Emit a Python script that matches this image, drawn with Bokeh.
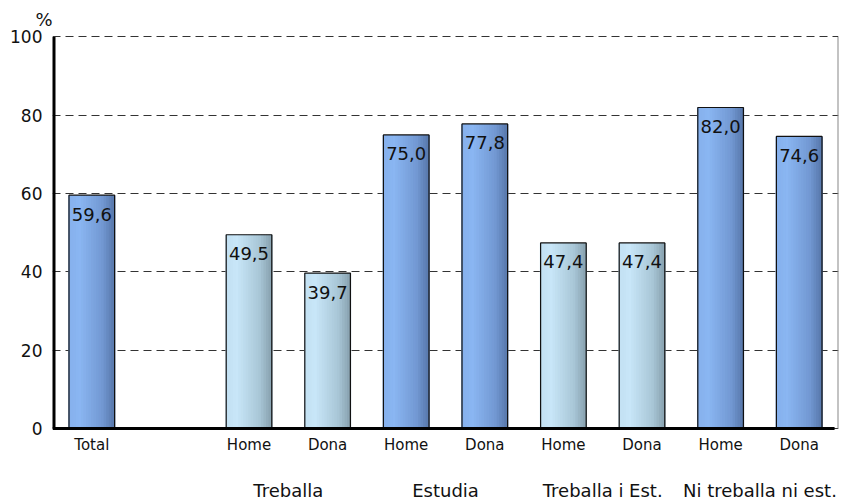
import numpy as np
from bokeh.plotting import figure
from bokeh.models import Range1d, FixedTicker, Title
from bokeh.embed import file_html
from bokeh.resources import INLINE
from bokeh.core.properties import value

# ---- data ----
categories = ["Total", "", "Home", "Dona", "Home", "Dona", "Home", "Dona", "Home", "Dona"]
values = [59.6, None, 49.5, 39.7, 75.0, 77.8, 47.4, 47.4, 82.0, 74.6]
shades = ["dark", "", "light", "light", "dark", "dark", "light", "light", "dark", "dark"]
groups = ["Treballa", "Estudia", "Treballa i Est.", "Ni treballa ni est."]
group_pos = [2.5, 4.5, 6.5, 8.5]
y_ticks = [0, 20, 40, 60, 80, 100]

FONT = "DejaVu Sans"
BAR_W = 0.58
N_STRIPS = 18
PX_PER_UNIT = 3.92
BOTTOM_PX = 74
TOP_PAD_PX = 1.5

gradients = {
    "dark": [(0.0, (0x86, 0xb0, 0xec)), (0.25, (0x8a, 0xb6, 0xf2)), (0.75, (0x72, 0x98, 0xd2)), (1.0, (0x58, 0x78, 0xac))],
    "light": [(0.0, (0xc2, 0xe0, 0xf2)), (0.25, (0xc8, 0xe6, 0xf8)), (0.75, (0xa8, 0xc6, 0xd6)), (1.0, (0x88, 0xa2, 0xb0))],
}


def interp(stops, t):
    for (t0, c0), (t1, c1) in zip(stops[:-1], stops[1:]):
        if t0 <= t <= t1:
            f = (t - t0) / (t1 - t0) if t1 > t0 else 0
            c = [int(round(a + (b - a) * f)) for a, b in zip(c0, c1)]
            return "#%02x%02x%02x" % tuple(c)
    return "#%02x%02x%02x" % stops[-1][1]


y_min = -BOTTOM_PX / PX_PER_UNIT
y_max = 100 + TOP_PAD_PX / PX_PER_UNIT
p = figure(width=846, height=502, output_backend="svg", toolbar_location=None,
           x_range=Range1d(-0.5, 9.5), y_range=Range1d(y_min, y_max),
           min_border_left=52, min_border_right=8, min_border_top=35, min_border_bottom=0)

idx = list(range(len(categories)))

# gradient strips
sx, stop, sc = [], [], []
for i, v, s in zip(idx, values, shades):
    if v is None:
        continue
    sw = BAR_W / N_STRIPS
    for k in range(N_STRIPS):
        t = (k + 0.5) / N_STRIPS
        sx.append(i - BAR_W / 2 + (k + 0.5) * sw)
        stop.append(v)
        sc.append(interp(gradients[s], t))
p.vbar(x=sx, top=stop, bottom=0, width=BAR_W / N_STRIPS * 1.6, fill_color=sc, line_color=None)

# outlines
bx = [i for i, v in zip(idx, values) if v is not None]
bt = [v for v in values if v is not None]
p.vbar(x=bx, top=bt, bottom=0, width=BAR_W, fill_color=None, line_color="#111111", line_width=1.2)

# value labels
labels = [f"{v:.1f}".replace(".", ",") for v in bt]
p.text(x=bx, y=bt, text=labels, text_font=value(FONT), text_font_size="18px",
       text_align="center", text_baseline="middle", y_offset=19, text_color="#111111")

# axis lines drawn in the frame
p.segment(x0=[-0.5], y0=[0], x1=[-0.5], y1=[100], line_color="black", line_width=6)
p.segment(x0=[-0.5], y0=[0], x1=[9.45], y1=[0], line_color="black", line_width=3)
p.segment(x0=[9.5], y0=[0], x1=[9.5], y1=[100], line_color="#888888", line_width=2)

# category labels under the axis
cx = [i for i, c in zip(idx, categories) if c]
ct = [c for c in categories if c]
p.text(x=cx, y=[0] * len(cx), text=ct, text_font=value(FONT), text_font_size="15px",
       text_align="center", text_baseline="middle", y_offset=16, text_color="#111111")

# group labels
p.text(x=group_pos, y=[0] * len(group_pos), text=groups, text_font=value(FONT),
       text_font_size="18px", text_align="center", text_baseline="middle",
       y_offset=62, text_color="#111111")

# y axis
p.xaxis.visible = False
ax = p.yaxis[0]
ax.axis_line_color = None
ax.major_tick_line_color = None
ax.minor_tick_line_color = None
ax.major_label_text_font = FONT
ax.major_label_text_color = "#111111"
ax.ticker = FixedTicker(ticks=y_ticks)
ax.major_label_text_font_size = "17px"
ax.major_label_standoff = 4

p.xgrid.grid_line_color = None
p.ygrid.ticker = FixedTicker(ticks=y_ticks)
p.ygrid.grid_line_color = "#333333"
p.ygrid.grid_line_dash = "8 5"
p.ygrid.grid_line_width = 1

p.outline_line_color = None
p.background_fill_color = "white"
p.border_fill_color = "white"

# % label
p.add_layout(Title(text="%", align="left", offset=-17, text_font=FONT, text_font_size="18px",
                   text_font_style="normal", text_color="#111111", standoff=11), "above")

open("out.html", "w").write(file_html(p, INLINE))
